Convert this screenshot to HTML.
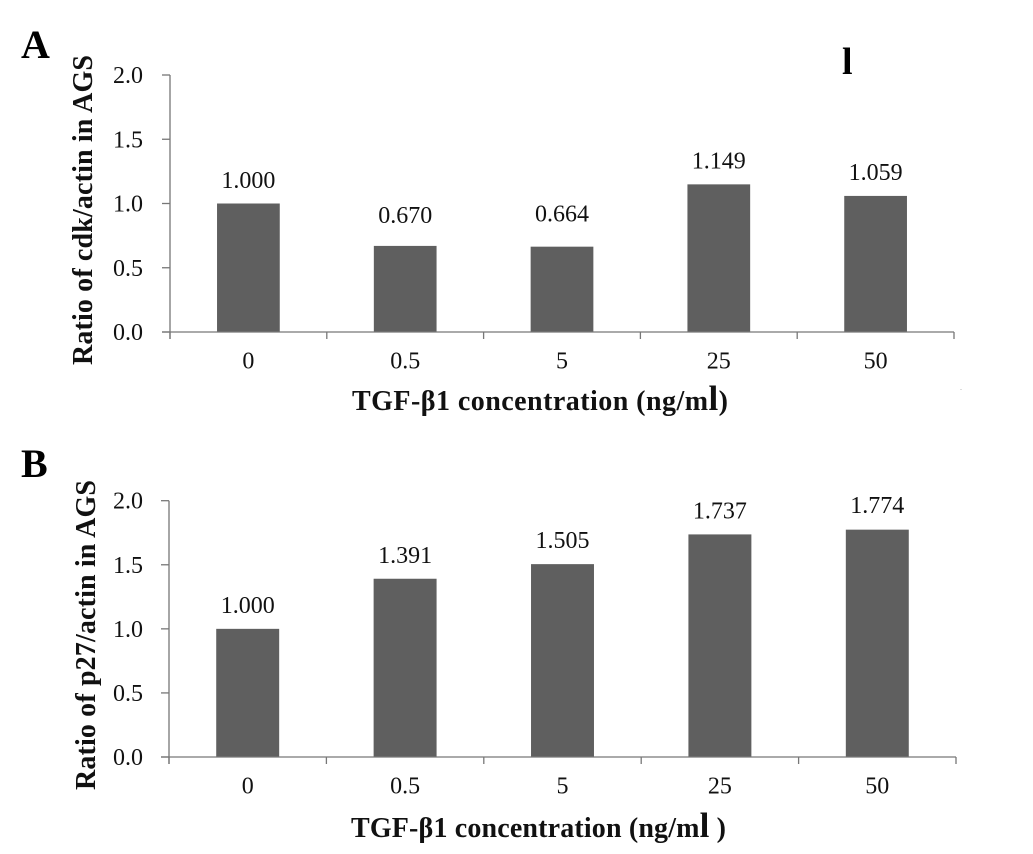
<!DOCTYPE html>
<html lang="en">
<head>
<meta charset="utf-8">
<title>TGF-β1 concentration bar charts</title>
<style>
html,body{margin:0;padding:0;background:#fff;}
svg{display:block;font-family:"Liberation Serif",serif;fill:#111;}
.tick{font-size:24px;}
.value{font-size:24px;text-anchor:middle;}
.cat{font-size:24px;text-anchor:middle;}
.title{font-size:28px;font-weight:bold;}
.panel{font-size:40px;font-weight:bold;fill:#000;}
</style>
</head>
<body>
<svg id="figure" width="1033" height="854" viewBox="0 0 1033 854" xmlns="http://www.w3.org/2000/svg">
  <rect x="0" y="0" width="1033" height="854" fill="#fff"></rect>
  <text class="panel" x="21" y="58">A</text>
  <text class="panel" x="21" y="477">B</text>
  <text x="842" y="74" style="font-size:38px;font-weight:bold;fill:#000">l</text>
  <rect x="960" y="389" width="2" height="1" fill="#ddd"></rect>
  <text class="title" transform="translate(92,365) rotate(-90)" textLength="310">Ratio of cdk/actin in AGS</text>
  <text class="title" transform="translate(95,790) rotate(-90)" textLength="310">Ratio of p27/actin in AGS</text>
  <text class="title" x="352" y="410" textLength="376">TGF-β1 concentration (ng/m<tspan style="font-size:35px">l</tspan>)</text>
  <text class="title" x="351" y="837" textLength="375">TGF-β1 concentration (ng/m<tspan style="font-size:35px">l</tspan> )</text>
</svg>
<script>
const categories = ['0', '0.5', '5', '25', '50'];
const yTickValues = [0, 0.5, 1, 1.5, 2];
const yTickLabels = ['0.0', '0.5', '1.0', '1.5', '2.0'];
const seriesA = [1.000, 0.670, 0.664, 1.149, 1.059];
const seriesB = [1.000, 1.391, 1.505, 1.737, 1.774];
const valueLabelsA = ['1.000', '0.670', '0.664', '1.149', '1.059'];
const valueLabelsB = ['1.000', '1.391', '1.505', '1.737', '1.774'];
const labelLiftA = [15.5, 23, 25, 16, 16];
const labelLiftB = [15.7, 15.7, 16, 16, 16.7];

const svg = document.getElementById('figure');
const NS = 'http://www.w3.org/2000/svg';
const AXIS = '#777';
const BAR = '#5f5f5f';

function make(tag, attrs, text) {
  const el = document.createElementNS(NS, tag);
  Object.keys(attrs).forEach(function (k) { el.setAttribute(k, attrs[k]); });
  if (text !== undefined) el.textContent = text;
  svg.appendChild(el);
  return el;
}

function drawChart(id, box, values, valueLabels, lifts) {
  const band = (box.x1 - box.x0) / categories.length;
  const xScale = function (i) { return box.x0 + band * (i + 0.5); };
  const yScale = function (v) { return box.bottom - (v / 2) * (box.bottom - box.top); };

  values.forEach(function (v, i) {
    const w = band * 0.4;
    const bar = make('rect', { x: xScale(i) - w / 2, y: yScale(v), width: w, height: box.bottom - yScale(v), fill: BAR });
    
    
    const label = make('text', { class: 'value', x: xScale(i), y: yScale(v) - lifts[i] }, valueLabels[i]);
    
    
  });

  const yAxis = make('line', { x1: box.x0, x2: box.x0, y1: box.top, y2: box.bottom + 7, stroke: AXIS, 'stroke-width': 1.3 });
  
  
  const xAxis = make('line', { x1: box.x0 - 8, x2: box.x1, y1: box.bottom, y2: box.bottom, stroke: AXIS, 'stroke-width': 1.3 });
  
  

  yTickValues.forEach(function (v, i) {
    const tick = make('line', { x1: box.x0 - 8, x2: box.x0, y1: yScale(v), y2: yScale(v), stroke: AXIS, 'stroke-width': 1.3 });
    
    
    const label = make('text', { class: 'tick', x: 143, y: yScale(v) + 8, 'text-anchor': 'end' }, yTickLabels[i]);
    
    
  });

  for (let i = 0; i <= categories.length; i++) {
    const tx = box.x0 + band * i;
    const tick = make('line', { x1: tx, x2: tx, y1: box.bottom, y2: box.bottom + 7, stroke: AXIS, 'stroke-width': 1.3 });
    
    
  }

  categories.forEach(function (c, i) {
    const label = make('text', { class: 'cat', x: xScale(i), y: box.bottom + 36.5 }, c);
    
    
  });
}

drawChart('a', { x0: 170, x1: 954, top: 75, bottom: 332 }, seriesA, valueLabelsA, labelLiftA);
drawChart('b', { x0: 169, x1: 956, top: 500.7, bottom: 757 }, seriesB, valueLabelsB, labelLiftB);
</script>
</body>
</html>
